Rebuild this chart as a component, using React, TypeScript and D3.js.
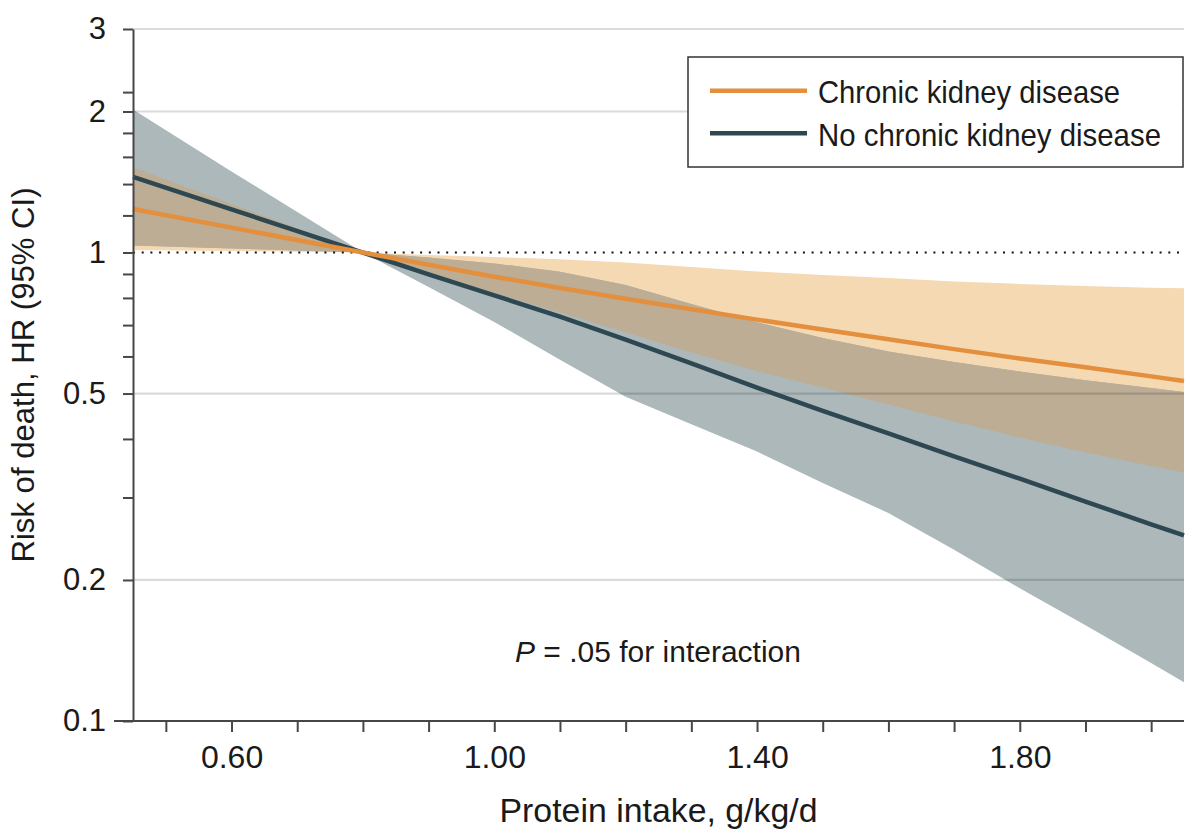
import { useRef, useEffect } from "react";
import * as d3 from "d3";

// protein intake (g/kg/d) sample points
const PROTEIN = [0.45, 0.6, 0.8, 0.9, 1.0, 1.1, 1.2, 1.3, 1.4, 1.5, 1.6, 1.7, 1.8, 1.9, 2.0, 2.05];

// chronic kidney disease: HR and 95% CI
const CKD_HR = [1.238, 1.13, 1.0, 0.942, 0.888, 0.84, 0.797, 0.757, 0.719, 0.685, 0.653, 0.622, 0.594, 0.569, 0.544, 0.532];
const CKD_LO = [1.013, 1.007, 1.0, 0.905, 0.82, 0.745, 0.675, 0.612, 0.558, 0.515, 0.474, 0.436, 0.403, 0.374, 0.35, 0.339];
const CKD_HI = [1.52, 1.27, 1.0, 0.988, 0.978, 0.968, 0.952, 0.931, 0.911, 0.895, 0.882, 0.867, 0.857, 0.848, 0.841, 0.839];

// no chronic kidney disease: HR and 95% CI
const NOCKD_HR = [1.45, 1.236, 1.0, 0.898, 0.81, 0.73, 0.652, 0.58, 0.515, 0.459, 0.411, 0.367, 0.329, 0.294, 0.263, 0.249];
const NOCKD_LO = [1.035, 1.02, 1.0, 0.844, 0.711, 0.59, 0.492, 0.43, 0.376, 0.322, 0.278, 0.232, 0.192, 0.16, 0.133, 0.121];
const NOCKD_HI = [2.02, 1.49, 1.0, 0.976, 0.948, 0.91, 0.852, 0.776, 0.71, 0.657, 0.615, 0.584, 0.557, 0.534, 0.514, 0.504];

// axes
const Y_MAJOR = [0.1, 0.2, 0.5, 1, 2, 3];
const Y_MINOR = [0.3, 0.4, 0.6, 0.7, 0.8, 0.9, 1.2, 1.4, 1.6, 1.8, 2.2];
const Y_GRID = [0.2, 0.5, 2, 3];
const X_TICKS = [0.5, 0.6, 0.7, 0.8, 0.9, 1.0, 1.1, 1.2, 1.3, 1.4, 1.5, 1.6, 1.7, 1.8, 1.9, 2.0];
const X_LABELS = [0.6, 1.0, 1.4, 1.8];

const SERIES = ["Chronic kidney disease", "No chronic kidney disease"];

const FONT = "'Liberation Sans', Arial, sans-serif";
const TEXT = "#1a1a1a";
const AXIS = "#474747";
const ORANGE = "#e48f3d";
const ORANGE_BAND = "#f5d9b3";
const DARK = "#2e4852";
const GRAY_BAND = "#adb8bb";
const OVERLAP = "#bcad94";

const W = 1200;
const H = 840;
const margin = { top: 29, right: 16, bottom: 119, left: 133 };

interface Row {
  p: number;
  ckd: number;
  ckdLo: number;
  ckdHi: number;
  no: number;
  noLo: number;
  noHi: number;
}

const rows: Row[] = PROTEIN.map((p, i) => ({
  p,
  ckd: CKD_HR[i],
  ckdLo: CKD_LO[i],
  ckdHi: CKD_HI[i],
  no: NOCKD_HR[i],
  noLo: NOCKD_LO[i],
  noHi: NOCKD_HI[i],
}));

const x = d3.scaleLinear().domain([0.45, 2.05]).range([margin.left, W - margin.right]);
const y = d3.scaleLog().domain([0.1, 3]).range([H - margin.bottom, margin.top]);

export default function App() {
  const xAxisRef = useRef<SVGGElement>(null);
  const yAxisRef = useRef<SVGGElement>(null);

  useEffect(() => {
    if (!xAxisRef.current || !yAxisRef.current) return;

    const yAxis = d3
      .axisLeft(y)
      .tickValues([...Y_MAJOR, ...Y_MINOR])
      .tickSize(10)
      .tickSizeOuter(0)
      .tickPadding(17)
      .tickFormat((d) => (Y_MAJOR.includes(d as number) ? String(d) : ""));

    const xAxis = d3
      .axisBottom(x)
      .tickValues(X_TICKS)
      .tickSize(11)
      .tickSizeOuter(0)
      .tickPadding(13)
      .tickFormat((d) =>
        X_LABELS.some((v) => Math.abs(v - (d as number)) < 1e-9) ? d3.format(".2f")(d as number) : ""
      );

    const style = (g: d3.Selection<SVGGElement, unknown, null, undefined>, size: number) => {
      g.select(".domain").attr("stroke", AXIS).attr("stroke-width", 2);
      g.selectAll(".tick line").attr("stroke", AXIS).attr("stroke-width", 2);
      g.selectAll(".tick text")
        .attr("font-size", size)
        .attr("font-family", FONT)
        .attr("fill", TEXT);
    };

    d3.select(yAxisRef.current).call(yAxis).call(style, 31);
    d3.select(xAxisRef.current).call(xAxis).call(style, 32);
    d3.select(xAxisRef.current).select(".domain").remove();
  }, []);

  const band = (lo: (d: Row) => number, hi: (d: Row) => number) =>
    d3
      .area<Row>()
      .x((d) => x(d.p))
      .y0((d) => y(lo(d)))
      .y1((d) => y(hi(d)))(rows) || "";

  const line = (v: (d: Row) => number) =>
    d3
      .line<Row>()
      .x((d) => x(d.p))
      .y((d) => y(v(d)))(rows) || "";

  const ckdBand = band((d) => d.ckdLo, (d) => d.ckdHi);
  const noBand = band((d) => d.noLo, (d) => d.noHi);

  const x0 = margin.left;
  const x1 = W - margin.right;
  const yBase = H - margin.bottom;

  return (
    <svg
      width={W}
      height={H}
      style={{ position: "absolute", left: 0, top: 0, background: "#fff" }}
      fontFamily={FONT}
    >
      <defs>
        <clipPath id="ckd-band-clip">
          <path d={ckdBand} />
        </clipPath>
      </defs>

      {/* confidence bands, overlap drawn as the gray band clipped to the orange one */}
      <path d={ckdBand} fill={ORANGE_BAND} />
      <path d={noBand} fill={GRAY_BAND} />
      <path d={noBand} fill={OVERLAP} clipPath="url(#ckd-band-clip)" />

      {/* gridlines */}
      {Y_GRID.map((v) => (
        <line
          key={v}
          x1={x0}
          x2={x1}
          y1={y(v)}
          y2={y(v)}
          stroke="rgba(0,0,0,0.14)"
          strokeWidth={2.2}
        />
      ))}

      {/* reference line at HR = 1 */}
      <line
        x1={x0}
        x2={x1}
        y1={y(1)}
        y2={y(1)}
        stroke="#111"
        strokeWidth={2.2}
        strokeDasharray="2 6.7"
      />

      {/* estimates */}
      <path d={line((d) => d.no)} fill="none" stroke={DARK} strokeWidth={4.5} />
      <path d={line((d) => d.ckd)} fill="none" stroke={ORANGE} strokeWidth={4.5} />

      {/* axes */}
      <g ref={yAxisRef} transform={`translate(${x0},0)`} />
      <g ref={xAxisRef} transform={`translate(0,${yBase})`} />
      <line x1={114} x2={x1} y1={yBase} y2={yBase} stroke={AXIS} strokeWidth={2} />

      {/* axis titles */}
      <text
        transform={`translate(34,${(margin.top + yBase) / 2}) rotate(-90)`}
        textAnchor="middle"
        fontSize={31}
        fill={TEXT}
        textLength={375}
        lengthAdjust="spacingAndGlyphs"
      >
        Risk of death, HR (95% CI)
      </text>
      <text
        x={(x0 + x1) / 2}
        y={822}
        textAnchor="middle"
        fontSize={33}
        fill={TEXT}
        textLength={318}
        lengthAdjust="spacingAndGlyphs"
      >
        Protein intake, g/kg/d
      </text>

      {/* annotation */}
      <text
        x={515}
        y={662}
        fontSize={29}
        fill={TEXT}
        textLength={286}
        lengthAdjust="spacingAndGlyphs"
      >
        <tspan fontStyle="italic">P</tspan>
        {" = .05 for interaction"}
      </text>

      {/* legend */}
      <g>
        <rect x={688} y={57} width={495} height={110} fill="#fff" stroke="#333" strokeWidth={1.5} />
        <line x1={710} x2={807} y1={90.7} y2={90.7} stroke={ORANGE} strokeWidth={4.5} />
        <line x1={710} x2={807} y1={133.3} y2={133.3} stroke={DARK} strokeWidth={4.5} />
        <text x={818} y={102.7} fontSize={32} fill={TEXT} textLength={302} lengthAdjust="spacingAndGlyphs">
          {SERIES[0]}
        </text>
        <text x={818} y={146} fontSize={32} fill={TEXT} textLength={343} lengthAdjust="spacingAndGlyphs">
          {SERIES[1]}
        </text>
      </g>
    </svg>
  );
}
